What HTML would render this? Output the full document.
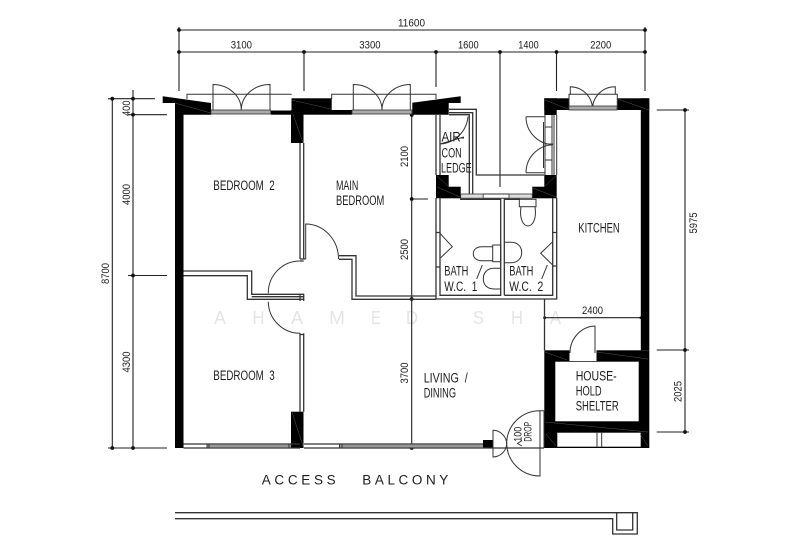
<!DOCTYPE html>
<html lang="en"><head><meta charset="utf-8"><title>Floor plan</title>
<style>
html,body{margin:0;padding:0;background:#fff}
svg{display:block}
text{font-family:"Liberation Sans",sans-serif;fill:#1c1c1c}
.d{font-size:11px}
.l{font-size:13.5px}
.w{font-size:18px;fill:#e4e4e4}
.t{stroke:#222;stroke-width:1.1;fill:none}
.g{stroke:#333;stroke-width:1.3;fill:none}
.thin{stroke:#333;stroke-width:1;fill:none}
.b{fill:#000;stroke:none}
.hl{stroke:#777;stroke-width:.6;fill:none}
</style></head><body>
<svg width="800" height="552" viewBox="0 0 800 552" xmlns="http://www.w3.org/2000/svg">
<rect width="800" height="552" fill="#fff"/>

<!-- watermark -->
<g class="w">
<text class="w" x="214" y="324" textLength="12" lengthAdjust="spacingAndGlyphs">A</text>
<text class="w" x="252.500" y="324" textLength="12" lengthAdjust="spacingAndGlyphs">H</text>
<text class="w" x="291" y="324" textLength="12" lengthAdjust="spacingAndGlyphs">A</text>
<text class="w" x="329" y="324" textLength="16" lengthAdjust="spacingAndGlyphs">M</text>
<text class="w" x="371" y="324" textLength="10" lengthAdjust="spacingAndGlyphs">E</text>
<text class="w" x="406" y="324" textLength="12" lengthAdjust="spacingAndGlyphs">D</text>
<text class="w" x="473" y="324" textLength="11" lengthAdjust="spacingAndGlyphs">S</text>
<text class="w" x="511" y="324" textLength="12" lengthAdjust="spacingAndGlyphs">H</text>
<text class="w" x="550" y="324" textLength="11" lengthAdjust="spacingAndGlyphs">A</text>
</g>

<!-- dimension lines -->
<g class="t">
<path d="M179 30H645M179 52H645"/>
<path d="M179 27V91M304 52V91M436 52V87M500 52V187M556.500 52V91M645 27V91"/>
<path d="M112.300 98.700V448M133 90V448"/>
<path d="M108 98.700H155M128 114.700H167M128 275.500H167M108 448H167"/>
<path d="M411.700 115V448M412 199H428"/>
<path d="M685 110V432M656.700 110H689M656.700 350H689M656.700 432H689"/>
<path d="M544.700 317.700H640.700"/>
</g>
<g fill="#111">
<circle cx="179" cy="30" r="1.900"/><circle cx="179" cy="52" r="1.900"/><circle cx="304" cy="52" r="1.900"/>
<circle cx="436" cy="52" r="1.900"/><circle cx="500" cy="52" r="1.900"/><circle cx="556.500" cy="52" r="1.900"/>
<circle cx="645" cy="30" r="1.900"/><circle cx="645" cy="52" r="1.900"/>
<circle cx="112.300" cy="98.700" r="1.900"/><circle cx="133" cy="98.700" r="1.900"/><circle cx="133" cy="114.700" r="1.900"/>
<circle cx="133" cy="275.500" r="1.900"/><circle cx="112.300" cy="448" r="1.900"/><circle cx="133" cy="448" r="1.900"/>
<circle cx="411.700" cy="115" r="1.900"/><circle cx="411.700" cy="199" r="1.900"/><circle cx="411.700" cy="299" r="1.900"/><circle cx="411.700" cy="448" r="1.900"/>
<circle cx="685" cy="110" r="1.900"/><circle cx="685" cy="350" r="1.900"/><circle cx="685" cy="432" r="1.900"/>
<circle cx="544.700" cy="317.700" r="1.500"/><circle cx="640.700" cy="317.700" r="1.300"/>
</g>

<!-- black walls -->
<g class="b">
<rect x="175" y="114.500" width="8.500" height="333.500"/>
<polygon points="162.700,96.300 211,103 211,114.700 175,114.700 175,103 162.700,103"/>
<rect x="271" y="110.500" width="20" height="4.200"/>
<rect x="291.500" y="98.300" width="40.200" height="12"/>
<rect x="291" y="110" width="61" height="4.700"/>
<rect x="291" y="114" width="12.500" height="29"/>
<rect x="291" y="411.700" width="12.500" height="36.300"/>
<polygon points="412.300,102.700 460.700,96.300 460.700,103 448.700,103 448.700,114.800 412.300,114.800"/>
<rect x="544.300" y="98.300" width="24.700" height="11.700"/>
<rect x="544.300" y="98.300" width="12.400" height="16.700"/>
<rect x="617.300" y="98.300" width="32" height="11.700"/>
<rect x="640.800" y="98.300" width="8.500" height="252"/>
<rect x="436" y="175" width="12.700" height="12"/>
<rect x="436" y="186.700" width="24.700" height="11.600"/>
<rect x="544.300" y="175" width="12.400" height="12"/>
<rect x="532.300" y="186.700" width="24.400" height="11.600"/>
<rect x="544.300" y="350.300" width="105" height="97.700"/>
<rect x="483" y="440" width="10" height="8"/>
</g>
<g fill="#fff" stroke="none">
<rect x="555.300" y="361.700" width="83.400" height="59.600"/>
<rect x="569.500" y="350" width="27" height="11"/>
<rect x="557.300" y="432.700" width="83.400" height="14"/>
</g>
<!-- faint diagonals in the solid walls -->
<g stroke="#555" stroke-width=".5" fill="none">
<path d="M175 103L211 113M291.500 100L331 109M293 114L303 143M292 412L303 446M545 100L568 109M618 99L649 110M437 176L448 186M437 187L460 197M545 186L556 176M533 188L556 197M545 352L567 360M597 352L648 359M545 422L648 432M546 434L556 446M640 434L648 446"/>
</g>

<!-- top windows and doors -->
<g class="thin">
<path d="M187 99V94.300H291.700"/>
<path d="M331.700 99V94.300H436V99"/>
<path d="M213 110V84.500A28.500 25.500 0 0 1 241.300 110A28.500 25.500 0 0 1 270 84.500V110"/>
<path d="M353.300 110V84.500A28.500 25.500 0 0 1 382 110A28.500 25.500 0 0 1 410.300 84.500V110"/>
<path d="M569 110V94.300H617.300V110"/>
<path d="M570.300 94.300V86.700A22.500 22.500 0 0 1 592.500 109A22.500 22.500 0 0 1 615.300 86.700V94.300"/>
</g>
<g fill="#aaa" stroke="#333" stroke-width=".8">
<rect x="211" y="110" width="59.500" height="4"/>
<rect x="352" y="110" width="60" height="4"/>
<rect x="569" y="106" width="48" height="4"/>
</g>

<!-- AC ledge -->
<g class="g">
<path d="M449 109.300H476.300V175H544.300"/>
<path d="M449 112.700H472.700V194"/>
<path d="M449 114.700H469.300V194"/>
<path d="M436 115V175M440 115V175"/>
</g>
<path class="thin" d="M468 116.500A30 30 0 0 1 440 144L464 137"/>
<!-- kitchen side door -->
<g class="thin">
<path d="M545 115V175M552 115V175M554 115V175M556.700 115V175"/>
<path d="M526 116.700H545M526 172.700H545"/>
<path d="M526 116.700A28 28 0 0 0 553 144.700A28 28 0 0 0 526 172.700"/>
<path d="M543.500 122V168M545 127H552M545 144H553M545 160H552"/>
</g>

<!-- bath windows -->
<g fill="#ddd" stroke="#333" stroke-width=".8">
<rect x="460.700" y="194" width="22.500" height="4.200"/>
<rect x="509" y="194" width="23.300" height="4.200"/>
</g>
<path class="thin" d="M483.200 194H509M483.200 198.200H509"/>
<!-- bath walls -->
<g class="g">
<path d="M436 198V299H556.700V198"/>
<path d="M440 198V295.300H500.700V199.300H460"/>
<path d="M504.300 295.300V199.300H520M504.300 295.300H552.700V198"/>
<path d="M436 232.500H440M436 267H440M552.700 232.500H556.700M552.700 266H556.700"/>
</g>
<g class="thin">
<path d="M440 233.300L452.300 246.700L440.700 257.700"/>
<path d="M552.700 241.700L540.700 253.300L552.700 265"/>
<rect x="519.300" y="199.300" width="16.700" height="7.400"/>
<path d="M521 206.700C519 220 524 226 528 226C532 226 537 220 535 206.700"/>
<rect x="492.700" y="245" width="8" height="16.700"/>
<path d="M492.700 246.700H482C476 246.700 473.300 250 473.300 253.700C473.300 257.500 476 260.700 482 260.700H492.700"/>
<path d="M504.300 242.300H511C518 242.300 521.700 247 521.700 252.500C521.700 258 518 262.700 511 262.700H504.300"/>
<path d="M500.700 268.300H494C487 268.300 483.300 273 483.300 278.700C483.300 284.500 487 289 494 289H500.700"/>
</g>

<!-- interior walls -->
<g class="g">
<path d="M300 143V259M303.700 143V259"/>
<path d="M300 259H305.700M300 261H303.700"/>
<path d="M339 255.700H356V296H436"/>
<path d="M339 259.300H352V299.300H436"/>
<path d="M183.500 271H251.700V294.300H303.700"/>
<path d="M183.500 275.700H247.300V299.300H303.700"/>
<path d="M251.700 296.700H303.700"/>
<path d="M303.700 293.700V301M300 293.700V301"/>
<path d="M300 333.300V411.700M303.700 333.300V411.700M300 334.500H303.700"/>
<path d="M544.500 299V350.300"/>
</g>
<g class="thin">
<path d="M305.700 259V224A33 35 0 0 1 338.500 259"/>
<path d="M268.300 293.300A32 32 0 0 1 300 261"/>
<path d="M268.300 301.700A32 32 0 0 0 300 333.300"/>
<path d="M595 353V326A26 27 0 0 0 570 353"/>
<path d="M597 432.700V447M601.700 432.700V447"/>
</g>

<!-- bottom wall and windows -->
<g class="g">
<path d="M183.500 444H300M183.500 448H300M304 444H483M304 448H544"/>
</g>
<rect x="207" y="444.500" width="84" height="3" fill="#999"/>
<rect x="340" y="444.500" width="143" height="3" fill="#999"/>
<path class="thin" d="M207 444V448M209 444V448M289 444V448M339.500 444V448M342 444V448"/>

<!-- entrance doors -->
<g class="thin">
<path d="M493 448V430.300A14 14 0 0 1 506.700 444A14 14 0 0 1 493 457V448"/>
<path d="M540 410.700V476A33 33 0 0 1 506.700 444A33 33 0 0 1 540 410.700"/>
<path d="M540 410.700H544M544 410.700V448"/>
<path d="M493 448H544"/>
</g>

<!-- balcony -->
<g class="g">
<path d="M175 512.700H637.300V534H612.700V518.700H175"/>
<path d="M616.700 512.700V530H632.700V512.700"/>
</g>

<!-- dimensions text -->
<text class="d" x="398" y="26.500" textLength="27" lengthAdjust="spacingAndGlyphs">11600</text>
<text class="d" x="230.700" y="48.300" textLength="21.300" lengthAdjust="spacingAndGlyphs">3100</text>
<text class="d" x="359.300" y="48.300" textLength="21.300" lengthAdjust="spacingAndGlyphs">3300</text>
<text class="d" x="458" y="48.300" textLength="20.700" lengthAdjust="spacingAndGlyphs">1600</text>
<text class="d" x="518.300" y="48.300" textLength="20.400" lengthAdjust="spacingAndGlyphs">1400</text>
<text class="d" x="590.300" y="48.300" textLength="21" lengthAdjust="spacingAndGlyphs">2200</text>
<text class="d" x="582" y="314" textLength="21" lengthAdjust="spacingAndGlyphs">2400</text>
<text class="d" transform="translate(130,116) rotate(-90)" textLength="15.500" lengthAdjust="spacingAndGlyphs">400</text>
<text class="d" transform="translate(130,205) rotate(-90)" textLength="21" lengthAdjust="spacingAndGlyphs">4000</text>
<text class="d" transform="translate(109,284) rotate(-90)" textLength="21" lengthAdjust="spacingAndGlyphs">8700</text>
<text class="d" transform="translate(130,372.500) rotate(-90)" textLength="21" lengthAdjust="spacingAndGlyphs">4300</text>
<text class="d" transform="translate(408,167) rotate(-90)" textLength="21" lengthAdjust="spacingAndGlyphs">2100</text>
<text class="d" transform="translate(408,260) rotate(-90)" textLength="21" lengthAdjust="spacingAndGlyphs">2500</text>
<text class="d" transform="translate(408,383.500) rotate(-90)" textLength="21" lengthAdjust="spacingAndGlyphs">3700</text>
<text class="d" transform="translate(697,233.500) rotate(-90)" textLength="21" lengthAdjust="spacingAndGlyphs">5975</text>
<text class="d" transform="translate(681.500,402) rotate(-90)" textLength="21" lengthAdjust="spacingAndGlyphs">2025</text>

<!-- room labels -->
<text class="l" x="213.300" y="190" textLength="61.400" lengthAdjust="spacingAndGlyphs" xml:space="preserve">BEDROOM  2</text>
<text class="l" x="336" y="190" textLength="22.300" lengthAdjust="spacingAndGlyphs">MAIN</text>
<text class="l" x="336" y="205" textLength="48.300" lengthAdjust="spacingAndGlyphs">BEDROOM</text>
<text class="l" x="213.300" y="380" textLength="61.400" lengthAdjust="spacingAndGlyphs" xml:space="preserve">BEDROOM  3</text>
<text class="l" x="441.500" y="141.700" textLength="23" lengthAdjust="spacingAndGlyphs">AIR-</text>
<text class="l" x="441.500" y="157.700" textLength="20.200" lengthAdjust="spacingAndGlyphs">CON</text>
<text class="l" x="441" y="172.700" textLength="30.700" lengthAdjust="spacingAndGlyphs">LEDGE</text>
<text class="l" x="578.300" y="232.700" textLength="41.400" lengthAdjust="spacingAndGlyphs">KITCHEN</text>
<text class="l" x="444.300" y="275.700" textLength="24" lengthAdjust="spacingAndGlyphs">BATH</text>
<text class="l" x="444.300" y="291" textLength="33" lengthAdjust="spacingAndGlyphs" xml:space="preserve">W.C.  1</text>
<text class="l" x="509.300" y="275.700" textLength="24" lengthAdjust="spacingAndGlyphs">BATH</text>
<text class="l" x="509.300" y="291" textLength="34" lengthAdjust="spacingAndGlyphs" xml:space="preserve">W.C.  2</text>
<path class="thin" d="M476.700 279L482.300 265M541.700 279L547.300 265"/>
<text class="l" x="575.700" y="380.700" textLength="41" lengthAdjust="spacingAndGlyphs">HOUSE-</text>
<text class="l" x="575.700" y="395.700" textLength="26" lengthAdjust="spacingAndGlyphs">HOLD</text>
<text class="l" x="575.700" y="410.300" textLength="43" lengthAdjust="spacingAndGlyphs">SHELTER</text>
<text class="l" x="423.700" y="382.300" textLength="44" lengthAdjust="spacingAndGlyphs" xml:space="preserve">LIVING  /</text>
<text class="l" x="423.700" y="397.300" textLength="32.300" lengthAdjust="spacingAndGlyphs">DINING</text>
<text class="d" transform="translate(521.700,441.700) rotate(-90)" textLength="15" lengthAdjust="spacingAndGlyphs">100</text>
<text class="d" transform="translate(531.700,441.700) rotate(-90)" textLength="20" lengthAdjust="spacingAndGlyphs">DROP</text>
<path class="thin" d="M522 443.500L517.500 446.500L522 449" transform="translate(0,-3)"/>
<text class="l" x="261.700" y="484.300" textLength="74" lengthAdjust="spacing">ACCESS</text>
<text class="l" x="362.300" y="484.300" textLength="86" lengthAdjust="spacing">BALCONY</text>
</svg>
</body></html>
